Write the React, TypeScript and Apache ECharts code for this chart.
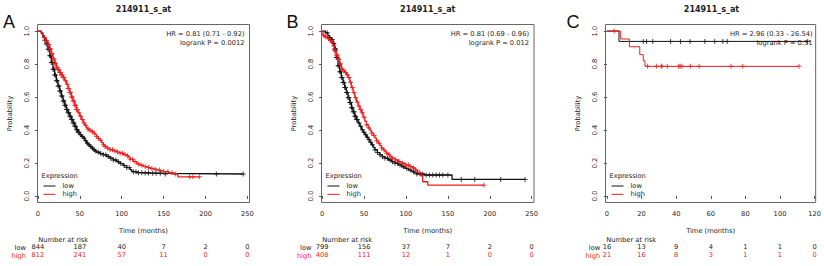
import React, { useEffect, useRef } from "react";
import * as echarts from "echarts";

// ---------- data ----------
const ticksAB = [0, 50, 100, 150, 200, 250];
const ticksC = [0, 20, 40, 60, 80, 100, 120];
const yTicks = [0, 0.2, 0.4, 0.6, 0.8, 1.0];

const titleText = "214911_s_at";
const groups = ["low", "high"];

// Kaplan-Meier steps [time (months), survival]
const aLow: [number, number][] = [
  [0, 1], [4, 0.985], [6, 0.963], [8, 0.945], [10, 0.922], [12, 0.89], [14, 0.851], [16, 0.81],
  [18, 0.769], [20, 0.733], [22, 0.698], [24, 0.667], [26, 0.637], [28, 0.606], [30, 0.576],
  [32, 0.55], [34, 0.524], [36, 0.504], [38, 0.484], [40, 0.463], [42, 0.443], [44, 0.422],
  [46, 0.402], [48, 0.386], [50, 0.371], [52, 0.361], [54, 0.351], [56, 0.335], [58, 0.32],
  [60, 0.31], [62, 0.3], [64, 0.29], [66, 0.28], [68, 0.272], [70, 0.265], [74, 0.257],
  [78, 0.249], [82, 0.239], [86, 0.229], [90, 0.218], [94, 0.208], [98, 0.196], [102, 0.184],
  [106, 0.172], [110, 0.16], [112, 0.147], [118, 0.141], [125, 0.139], [135, 0.137],
  [150, 0.133], [245, 0.133],
];
const aHigh: [number, number][] = [
  [0, 1], [4, 0.99], [6, 0.973], [8, 0.958], [10, 0.943], [12, 0.918], [14, 0.892], [16, 0.862],
  [18, 0.831], [20, 0.805], [22, 0.78], [24, 0.765], [26, 0.749], [28, 0.733], [30, 0.718],
  [32, 0.698], [34, 0.678], [36, 0.652], [38, 0.627], [40, 0.6], [42, 0.576], [44, 0.55],
  [46, 0.524], [48, 0.504], [50, 0.484], [52, 0.463], [54, 0.443], [56, 0.428], [58, 0.412],
  [60, 0.405], [62, 0.398], [64, 0.39], [66, 0.382], [68, 0.372], [70, 0.361], [72, 0.349],
  [74, 0.337], [76, 0.323], [78, 0.31], [80, 0.3], [82, 0.29], [86, 0.28], [90, 0.273],
  [94, 0.266], [98, 0.259], [102, 0.251], [106, 0.243], [108, 0.235], [110, 0.222],
  [114, 0.208], [118, 0.194], [122, 0.186], [126, 0.178], [130, 0.172], [134, 0.167],
  [138, 0.162], [142, 0.157], [146, 0.152], [150, 0.147], [156, 0.14], [162, 0.133],
  [167, 0.116], [193, 0.116],
];
const bLow: [number, number][] = [
  [0, 1], [4, 0.99], [7, 0.973], [9, 0.96], [11, 0.949], [13, 0.925], [15, 0.892], [17, 0.84],
  [19, 0.79], [21, 0.754], [23, 0.718], [25, 0.688], [27, 0.657], [29, 0.627], [31, 0.596],
  [33, 0.566], [35, 0.535], [37, 0.51], [39, 0.484], [41, 0.463], [43, 0.443], [45, 0.422],
  [47, 0.402], [49, 0.386], [51, 0.371], [53, 0.356], [55, 0.341], [57, 0.325], [59, 0.31],
  [61, 0.295], [63, 0.28], [66, 0.263], [69, 0.249], [72, 0.238], [75, 0.229], [79, 0.218],
  [83, 0.208], [87, 0.198], [91, 0.188], [95, 0.177], [99, 0.167], [103, 0.157], [107, 0.147],
  [110, 0.14], [113, 0.133], [122, 0.127], [155, 0.1], [242, 0.1],
];
const bHigh: [number, number][] = [
  [0, 1], [1, 0.975], [3, 0.965], [7, 0.953], [9, 0.943], [11, 0.933], [13, 0.91], [15, 0.88],
  [17, 0.855], [19, 0.83], [21, 0.8], [23, 0.77], [25, 0.76], [27, 0.749], [29, 0.735],
  [31, 0.718], [33, 0.69], [35, 0.657], [37, 0.627], [39, 0.596], [41, 0.57], [43, 0.545],
  [45, 0.525], [47, 0.504], [49, 0.478], [51, 0.453], [53, 0.432], [55, 0.412], [57, 0.397],
  [59, 0.382], [61, 0.366], [63, 0.351], [65, 0.335], [67, 0.32], [69, 0.305], [71, 0.29],
  [73, 0.279], [75, 0.269], [77, 0.259], [79, 0.249], [81, 0.239], [83, 0.229], [87, 0.218],
  [91, 0.208], [95, 0.198], [99, 0.188], [104, 0.178], [108, 0.17], [111, 0.157], [114, 0.14],
  [117, 0.127], [120, 0.086], [126, 0.065], [193, 0.065],
];
const cLow: [number, number][] = [[0, 1], [7, 0.9375], [116, 0.9375]];
const cHigh: [number, number][] = [
  [0, 1], [8, 0.952], [13, 0.905], [19, 0.857], [21, 0.82], [22, 0.786], [111, 0.786],
];

// censoring times (months)
const aLowCens = [
  8, 10, 11, 12, 13, 14, 15, 16, 17, 18, 19, 20, 21, 22, 23, 24, 25, 26, 27, 28, 29, 30, 31, 32,
  33, 34, 35, 36, 37, 38, 39, 40, 41, 42, 43, 44, 45, 46, 47, 48, 49, 51, 53, 55, 57, 59, 61,
  63, 65, 67, 69, 72, 75, 78, 81, 84, 87, 90, 93, 96, 99, 103, 106, 109, 114, 117, 120, 124,
  128, 132, 137, 141, 146, 152, 213, 245,
];
const aHighCens = [
  8, 10, 12, 13, 14, 15, 16, 17, 18, 19, 20, 21, 22, 23, 24, 25, 26, 27, 28, 29, 30, 31, 33, 35,
  36, 37, 38, 39, 40, 41, 42, 43, 44, 45, 46, 47, 49, 51, 53, 55, 57, 60, 62, 65, 67, 70, 72,
  75, 78, 80, 83, 86, 89, 92, 95, 98, 101, 104, 107, 110, 113, 116, 120, 124, 128, 132, 136,
  140, 145, 150, 155, 160, 164, 181, 185, 193,
];
const bLowCens = [
  6, 9, 12, 14, 15, 16, 17, 18, 19, 20, 21, 22, 23, 24, 25, 26, 27, 28, 29, 30, 31, 32, 33, 34,
  35, 36, 37, 38, 39, 40, 41, 42, 44, 46, 48, 50, 52, 54, 56, 58, 60, 63, 66, 69, 72, 75, 78,
  81, 84, 87, 90, 93, 97, 101, 105, 109, 113, 117, 120, 124, 128, 132, 136, 140, 144, 150,
  166, 182, 213, 242,
];
const bHighCens = [
  2, 4, 6, 8, 10, 12, 14, 15, 16, 17, 18, 19, 20, 21, 22, 24, 26, 28, 30, 32, 34, 36, 38, 40,
  42, 44, 46, 48, 50, 53, 56, 59, 62, 65, 68, 71, 74, 77, 80, 84, 88, 92, 96, 100, 103, 106,
  109, 112, 116, 119, 193,
];
const cLowCens = [21, 22.9, 26.5, 36.8, 42.5, 48, 56.6, 62.3, 67, 69.5, 116];
const cHighCens = [4.2, 23.5, 28.6, 31.5, 31.8, 34.9, 41.5, 42.3, 43.4, 48.2, 53.3, 71.7, 78.5, 111];

// number at risk
const riskLowA = [844, 187, 40, 7, 2, 0];
const riskHighA = [812, 241, 57, 11, 0, 0];
const riskLowB = [799, 156, 37, 7, 2, 0];
const riskHighB = [408, 111, 12, 1, 0, 0];
const riskLowC = [16, 13, 9, 4, 1, 1, 0];
const riskHighC = [21, 16, 8, 3, 1, 1, 0];

const hrA = ["HR = 0.81 (0.71 - 0.92)", "logrank P = 0.0012"];
const hrB = ["HR = 0.81 (0.69 - 0.96)", "logrank P = 0.012"];
const hrC = ["HR = 2.96 (0.33 - 26.54)", "logrank P = 0.31"];

// ---------- layout / style ----------
const FONT = '"DejaVu Sans", sans-serif';
const FS = 6.7;
const TXT = "#222";
const BLACK = "#111";
const RED = "#ee1c1c";
const GRID_TOP = 24.5;
const GRID_H = 178;

const panels = [
  { letter: "A", letterX: 3, left: 37.5, width: 212, xMin: -0.5, xMax: 252.5, ticks: ticksAB,
    low: aLow, high: aHigh, lowCens: aLowCens, highCens: aHighCens, lw: 1.3,
    riskLow: riskLowA, riskHigh: riskHighA, hr: hrA, rowLabelGap: 11.5 },
  { letter: "B", letterX: 286.5, left: 321.5, width: 212.5, xMin: -0.7, xMax: 252.7, ticks: ticksAB,
    low: bLow, high: bHigh, lowCens: bLowCens, highCens: bHighCens, lw: 1.3,
    riskLow: riskLowB, riskHigh: riskHighB, hr: hrB, rowLabelGap: 10 },
  { letter: "C", letterX: 566.5, left: 605.5, width: 212, xMin: -0.8, xMax: 120.6, ticks: ticksC,
    low: cLow, high: cHigh, lowCens: cLowCens, highCens: cHighCens, lw: 1,
    riskLow: riskLowC, riskHigh: riskHighC, hr: hrC, rowLabelGap: 5.3 },
];

const PLUS = "path://M2,0H3V2H5V3H3V5H2V3H0V2H2Z";

function survAt(curve: [number, number][], t: number): number {
  let s = curve[0][1];
  for (const [ti, si] of curve) {
    if (ti <= t) s = si;
    else break;
  }
  return s;
}

function txt(text: string, x: number, y: number, opts: any = {}) {
  const align = opts.align || "left";
  const vAlign = opts.vAlign || "middle";
  return {
    type: "text",
    x,
    y,
    silent: true,
    style: {
      text,
      fill: opts.color || TXT,
      fontSize: opts.size || FS,
      fontWeight: opts.weight || "normal",
      fontFamily: opts.family || FONT,
      align,
      verticalAlign: vAlign,
      textAlign: align,
      textVerticalAlign: vAlign,
    },
  };
}

function buildOption() {
  const grid: any[] = [];
  const xAxis: any[] = [];
  const yAxis: any[] = [];
  const series: any[] = [];
  const graphic: any[] = [];

  panels.forEach((p, i) => {
    grid.push({
      left: p.left, top: GRID_TOP, width: p.width, height: GRID_H,
      show: true, borderColor: "#666", borderWidth: 1, backgroundColor: "transparent",
    });
    const labelStyle = { fontSize: FS, color: TXT, fontFamily: FONT };
    xAxis.push({
      type: "value", gridIndex: i, min: p.xMin, max: p.xMax, position: "bottom",
      axisLine: { show: false }, splitLine: { show: false },
      axisTick: { show: true, customValues: p.ticks, length: 3, lineStyle: { color: "#555" } },
      axisLabel: { ...labelStyle, customValues: p.ticks, margin: 8, formatter: (v: number) => String(v) },
      name: "Time (months)", nameLocation: "middle", nameGap: 24.5,
      nameTextStyle: { fontSize: FS, color: TXT, fontFamily: FONT },
    });
    [p.riskLow, p.riskHigh].forEach((risk, k) => {
      xAxis.push({
        type: "value", gridIndex: i, min: p.xMin, max: p.xMax, position: "bottom",
        offset: k === 0 ? 41 : 49,
        axisLine: { show: false }, axisTick: { show: false }, splitLine: { show: false },
        axisLabel: {
          ...labelStyle, color: k === 0 ? TXT : RED, customValues: p.ticks, margin: 0,
          formatter: (v: number) => String(risk[p.ticks.indexOf(v)]),
        },
      });
    });
    yAxis.push({
      type: "value", gridIndex: i, min: -0.04, max: 1.04,
      axisLine: { show: false }, splitLine: { show: false },
      axisTick: { show: true, customValues: yTicks, length: 3, lineStyle: { color: "#555" } },
      axisLabel: { ...labelStyle, customValues: yTicks, rotate: 90, margin: 7,
        formatter: (v: number) => v.toFixed(1) },
      name: "Probability", nameLocation: "middle", nameGap: 24,
      nameTextStyle: { fontSize: FS, color: TXT, fontFamily: FONT },
    });

    const xi = i * 3;
    const curves = [
      { name: groups[0], data: p.low, cens: p.lowCens, color: BLACK },
      { name: groups[1], data: p.high, cens: p.highCens, color: RED },
    ];
    curves.forEach((c) => {
      series.push({
        type: "line", name: c.name, xAxisIndex: xi, yAxisIndex: i, step: "end",
        data: c.data, showSymbol: false, symbol: "none",
        lineStyle: { color: c.color, width: p.lw }, itemStyle: { color: c.color }, z: 3,
      });
    });
    curves.forEach((c) => {
      series.push({
        type: "scatter", name: c.name, xAxisIndex: xi, yAxisIndex: i,
        data: c.cens.map((t) => [t, survAt(c.data, t)]),
        symbol: PLUS, symbolSize: 5, itemStyle: { color: c.color }, z: 4,
      });
    });

    const right = p.left + p.width;
    const cx = p.left + p.width / 2;
    graphic.push(txt(titleText, cx, 9.6, { align: "center", weight: "bold", size: 8 }));
    graphic.push(txt(p.letter, p.letterX, 21.7, { size: 18, color: "#111", family: '"Liberation Sans", Arial, sans-serif' }));
    graphic.push(txt(p.hr[0], right - 5, 34, { align: "right" }));
    graphic.push(txt(p.hr[1], right - 5, 42.7, { align: "right" }));
    // legend
    graphic.push(txt("Expression", p.left + 4, 176));
    graphic.push({ type: "line", silent: true, shape: { x1: p.left + 6, y1: 186, x2: p.left + 18, y2: 186 }, style: { stroke: BLACK, lineWidth: 1 } });
    graphic.push({ type: "line", silent: true, shape: { x1: p.left + 6, y1: 194.3, x2: p.left + 18, y2: 194.3 }, style: { stroke: RED, lineWidth: 1 } });
    graphic.push(txt(groups[0], p.left + 25, 186));
    graphic.push(txt(groups[1], p.left + 25, 194.3));
    // risk table labels
    graphic.push(txt("Number at risk", p.left + 0.8, 240));
    graphic.push(txt(groups[0], p.left - p.rowLabelGap, 248, { align: "right" }));
    graphic.push(txt(groups[1], p.left - p.rowLabelGap, 256, { align: "right", color: RED }));
  });

  return {
    animation: false,
    backgroundColor: "#ffffff",
    grid, xAxis, yAxis, series, graphic,
  };
}

export default function App() {
  const ref = useRef<HTMLDivElement>(null);
  useEffect(() => {
    if (!ref.current) return;
    const chart = echarts.init(ref.current, undefined, { renderer: "svg" });
    chart.setOption(buildOption() as any);
    return () => chart.dispose();
  }, []);
  return (
    <div
      ref={ref}
      style={{ position: "fixed", left: 0, top: 0, width: 824, height: 266, background: "#fff" }}
    />
  );
}
